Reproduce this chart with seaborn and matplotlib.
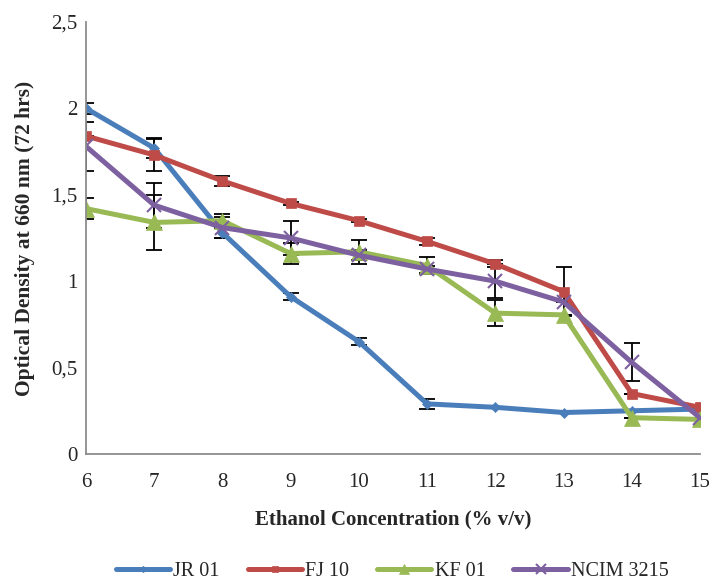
import matplotlib
matplotlib.use("Agg")
import matplotlib.pyplot as plt
import seaborn as sns
import pandas as pd

conc = [6, 7, 8, 9, 10, 11, 12, 13, 14, 15]
jr01 = [2.00, 1.77, 1.28, 0.91, 0.65, 0.29, 0.27, 0.24, 0.25, 0.26]
fj10 = [1.84, 1.73, 1.58, 1.45, 1.35, 1.23, 1.10, 0.94, 0.35, 0.27]
kf01 = [1.42, 1.34, 1.35, 1.16, 1.17, 1.09, 0.815, 0.805, 0.21, 0.20]
ncim = [1.78, 1.44, 1.31, 1.25, 1.15, 1.07, 1.00, 0.88, 0.53, 0.21]

jr01_err = [0.03, 0.06, 0.03, 0.02, 0.02, 0.03, 0.0, 0.0, 0.0, 0.0]
fj10_err = [0.0, 0.09, 0.03, 0.01, 0.01, 0.02, 0.02, 0.14, 0.0, 0.0]
kf01_err = [0.06, 0.16, 0.04, 0.06, 0.07, 0.05, 0.075, 0.0, 0.0, 0.0]
ncim_err = [0.14, 0.13, 0.06, 0.10, 0.03, 0.02, 0.10, 0.0, 0.11, 0.0]

names = ["JR 01", "FJ 10", "KF 01", "NCIM 3215"]
yticks = [0, 0.5, 1, 1.5, 2, 2.5]
ytick_labels = ["0", "0,5", "1", "1,5", "2", "2,5"]

sns.set_theme(style="white")
plt.rcParams['font.family'] = ['Liberation Serif', 'DejaVu Serif']

fig = plt.figure(figsize=(7.09, 5.83), dpi=100)
ax = fig.add_axes([0.1213, 0.2213, 0.8660, 0.741])

series = [
    (jr01, jr01_err, "#4A7EBB", "D", 5),
    (fj10, fj10_err, "#BE4B48", "s", 7),
    (kf01, kf01_err, "#98B954", "^", 11),
    (ncim, ncim_err, "#7D60A0", "x", 10),
]

for (vals, errs, col, mk, ms), name in zip(series, names):
    ax.errorbar(conc, vals, yerr=errs, fmt="none", ecolor="black",
                elinewidth=1.3, capsize=6, capthick=1.3, zorder=1.5)
    df = pd.DataFrame({"x": conc, "y": vals})
    sns.lineplot(data=df, x="x", y="y", ax=ax, color=col, linewidth=3.6,
                 marker=mk, markersize=ms, markeredgecolor=col,
                 markeredgewidth=1.5 if mk == "x" else 0.5,
                 label=name, zorder=2)

ax.set_xlim(6, 15)
ax.set_ylim(0, 2.5)
ax.set_xticks(conc)
ax.set_xticklabels([str(c) for c in conc], fontsize=15)
ax.set_yticks(yticks)
ax.set_yticklabels(ytick_labels, fontsize=15)
ax.tick_params(axis="x", length=0, pad=14)
ax.tick_params(axis="y", length=0, pad=6)
for s in ["top", "right"]:
    ax.spines[s].set_visible(False)
for s in ["left", "bottom"]:
    ax.spines[s].set_color("#8C8C8C")
    ax.spines[s].set_linewidth(1.3)

ax.set_xlabel("Ethanol Concentration (% v/v)", fontsize=15, fontweight="bold", labelpad=12)
ax.set_ylabel("Optical Density at 660 nm (72 hrs)", fontsize=15.5, fontweight="bold", labelpad=12)

if ax.legend_ is not None:
    ax.legend_.remove()
handles, labels = ax.get_legend_handles_labels()
fig.legend(handles, labels, loc="center", bbox_to_anchor=(0.553, 0.02),
           ncol=4, frameon=False, fontsize=14.5, handlelength=2.7,
           columnspacing=1.4, handletextpad=0.15, borderpad=0, borderaxespad=0,
           markerscale=0.65)

fig.savefig("out.png", dpi=100)
